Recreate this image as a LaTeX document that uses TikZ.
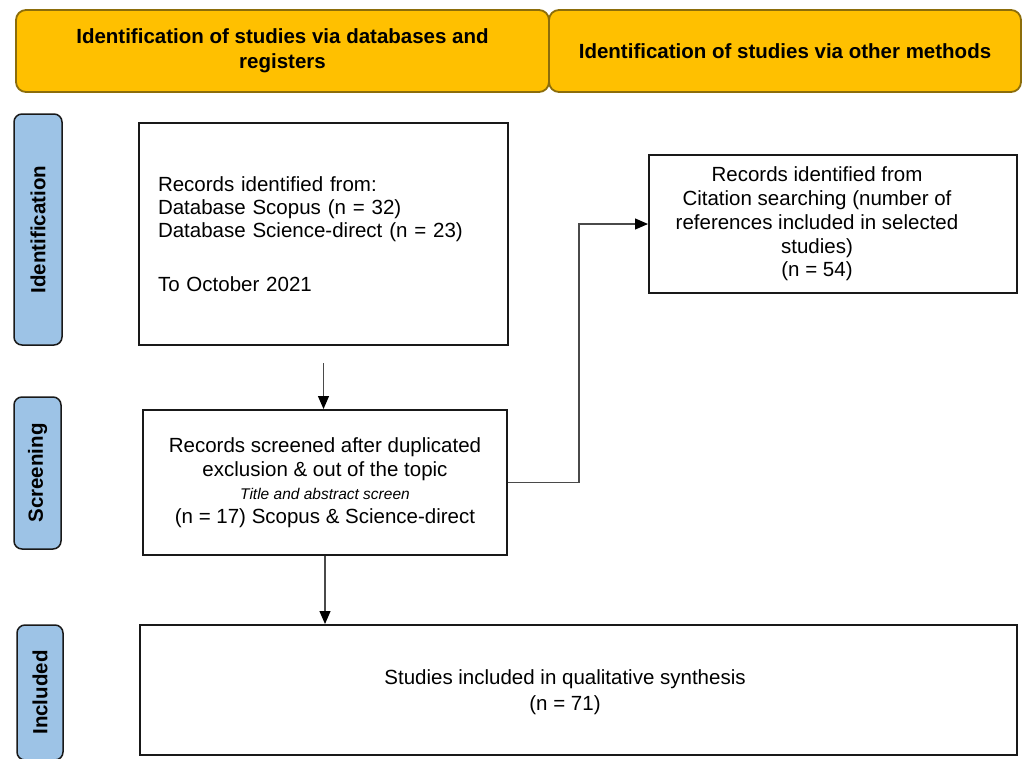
\documentclass[tikz,border=0pt]{standalone}
\usepackage{fontspec}
\setmainfont{Liberation Sans}
\usetikzlibrary{arrows.meta,calc}
\definecolor{hdrfill}{HTML}{FFC000}
\definecolor{hdrdraw}{HTML}{8C6D0A}
\definecolor{sidefill}{HTML}{9DC3E6}
\definecolor{arrowc}{HTML}{4A4A4A}
\begin{document}
\begin{tikzpicture}[x=1pt,y=-1pt,
 hdr/.style={draw=hdrdraw, line width=1.8pt, fill=hdrfill, rounded corners=10pt, align=center, font=\fontsize{20.5}{25}\selectfont\bfseries, inner sep=0pt},
 side/.style={draw=black!90, line width=1.5pt, fill=sidefill, rounded corners=8pt, inner sep=0pt, font=\fontsize{20.5}{24}\selectfont\bfseries},
 box/.style={draw=black!90, line width=2pt, fill=white, inner sep=0pt},
 body/.style={font=\fontsize{20.5}{23.5}\selectfont, align=center, inner sep=0pt},
 arr/.style={draw=arrowc, line width=1.2pt, -{Triangle[length=13pt,width=11pt,color=black]}}
]
\useasboundingbox (0,0) rectangle (1023,758);
% headers
\node[hdr, minimum width=533pt, minimum height=82pt] (h1) at (282.5,51) {Identification of studies via databases and\\registers};
\node[hdr, minimum width=472pt, minimum height=82pt] (h2) at (785,51) {Identification of studies via other methods};
% side labels
\node[side, rotate=90, minimum width=231pt, minimum height=48pt] (sid1) at (38,229.5) {Identification};
\node[side, rotate=90, minimum width=152pt, minimum height=47pt] (sid2) at (37.5,473) {Screening};
\node[side, rotate=90, minimum width=135pt, minimum height=46pt] (sid3) at (40,692.5) {Included};
% boxes
\node[box, minimum width=369pt, minimum height=222pt, text width=331pt, align=left, font=\fontsize{20.5}{23}\selectfont] (rec) at (323.5,234)
 {Records identified from:\\Database Scopus (n = 32)\\Database Science-direct (n = 23)\\[31pt]To October 2021};
\node[box, minimum width=364pt, minimum height=145pt, body] (scr) at (325,482.5)
 {Records screened after duplicated\\exclusion \& out of the topic\\{\fontsize{15.5}{22}\selectfont\itshape Title and abstract screen}\\(n = 17) Scopus \& Science-direct};
\node[box, minimum width=368pt, minimum height=138pt] (cite) at (833,224) {};
\node[body, font=\fontsize{20.5}{23.7}\selectfont] (citetxt) at ($(cite.center)+(-16,0)$)
 {Records identified from\\Citation searching (number of\\references included in selected\\studies)\\(n = 54)};
\node[box, minimum width=877pt, minimum height=130pt] (inc) at (578.5,690) {};
\node[body, font=\fontsize{20.5}{26}\selectfont] (inctxt) at ($(inc.center)+(-13.5,2)$)
 {Studies included in qualitative synthesis\\(n = 71)};
% arrows
\draw[arr] ([yshift=-17pt]rec.south) -- (rec.south |- scr.north);
\draw[arr] (scr.south) -- (scr.south |- inc.north);
\draw[arr] (scr.east) -- ++(71,0) |- (cite.west);
\end{tikzpicture}
\end{document}
